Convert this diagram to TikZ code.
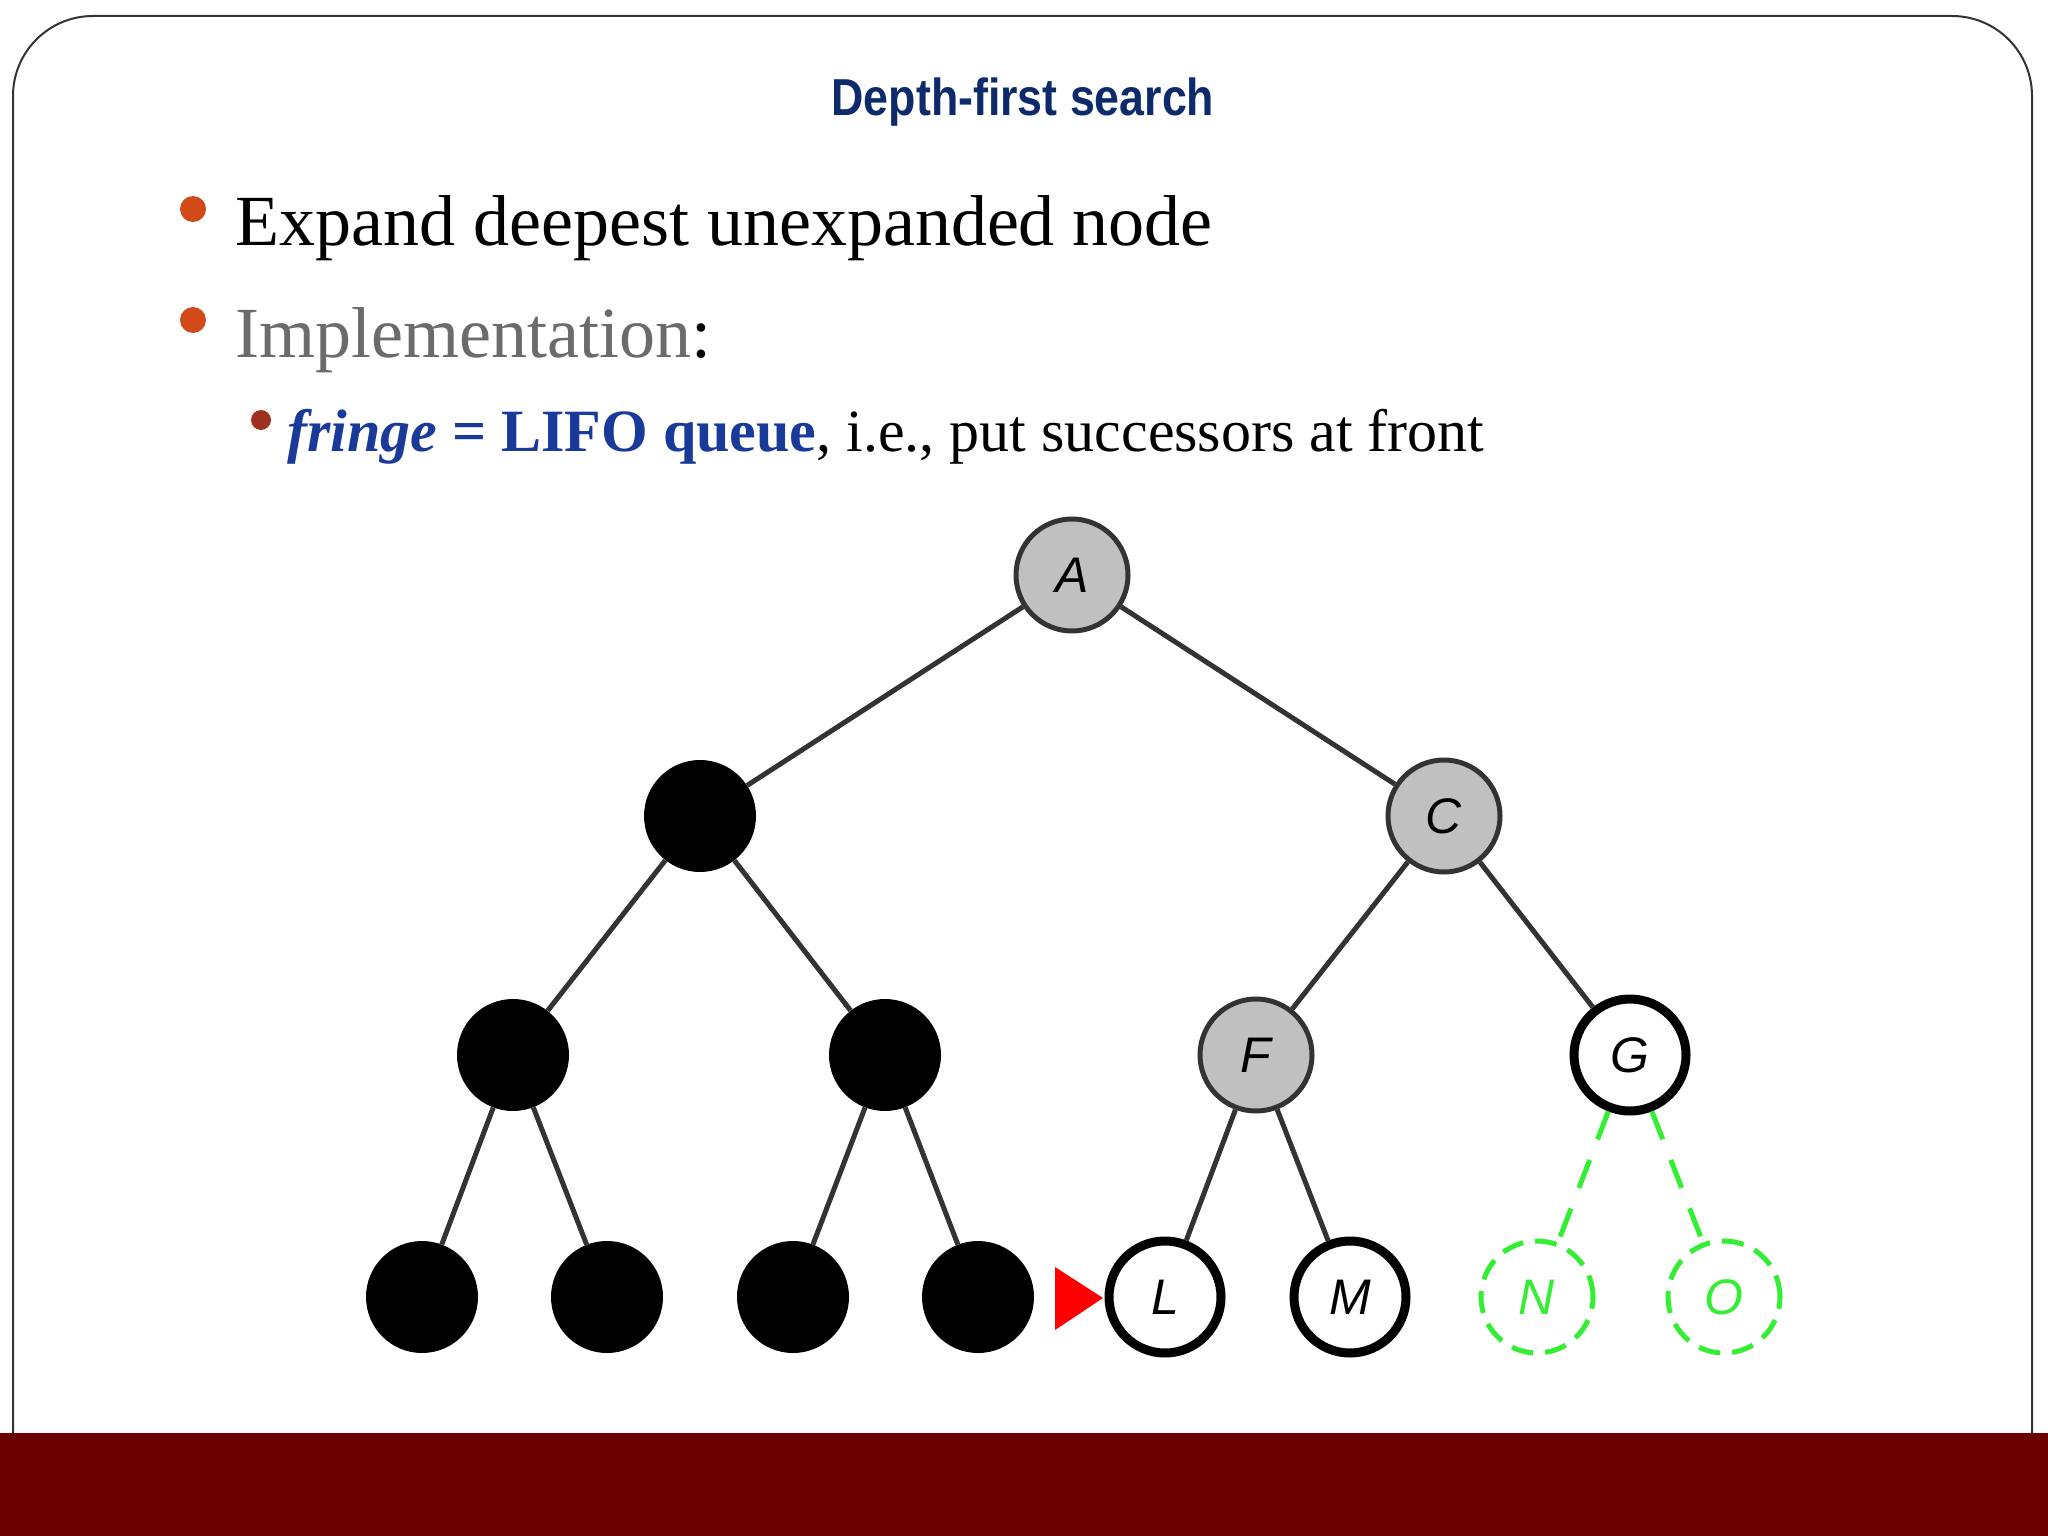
\documentclass[tikz,border=0pt]{standalone}
\usepackage{fontspec}
\setmainfont{Liberation Serif}
\newfontfamily\sansf{Liberation Sans}
\definecolor{titleblue}{HTML}{0D2A6B}
\definecolor{bulor}{HTML}{D04A1A}
\definecolor{bulred}{HTML}{A0301F}
\definecolor{textblue}{HTML}{1A3A9A}
\definecolor{barred}{HTML}{6B0000}
\definecolor{nodegray}{HTML}{C0C0C0}
\definecolor{grn}{HTML}{33EE33}
\begin{document}
\begin{tikzpicture}[x=1pt,y=-1pt,
  tn/.style={circle,minimum size=112pt,inner sep=0pt,font=\sansf\itshape\fontsize{50}{50}\selectfont},
  blk/.style={tn,fill=black},
  gry/.style={tn,fill=nodegray,draw=black!80,line width=5pt},
  wht/.style={tn,fill=white,draw=black,line width=9pt},
  grnn/.style={tn,draw=grn,dashed,dash pattern=on 22pt off 12pt,line width=5pt,text=grn},
  edge/.style={draw=black!80,line width=5pt},
  gedge/.style={draw=grn,line width=5pt,dash pattern=on 30pt off 22pt},
  txt/.style={anchor=base west,inner sep=0pt}]
\fill[white] (0,0) rectangle (2048,1536);
\draw[line width=2pt,black!80,rounded corners=80pt] (13,1433)--(13,16)--(2032,16)--(2032,1433);
\fill[barred] (0,1433) rectangle (2048,1536);
\node[font=\sansf\bfseries\fontsize{52}{52}\selectfont,text=titleblue,xscale=0.86] (title) at (1023,102) {Depth-first search};
\fill[bulor] (193,209) circle (13);
\node[txt,font=\fontsize{72}{72}\selectfont] (b1) at (235,245) {Expand deepest unexpanded node};
\fill[bulor] (193,320) circle (13);
\node[txt,font=\fontsize{72}{72}\selectfont] (b2) at (235,357) {\textcolor{black!58}{Implementation}:};
\fill[bulred] (261,420) circle (10);
\node[txt,font=\fontsize{60}{60}\selectfont] (b3) at (287,451) {\textcolor{textblue}{\textbf{\textit{fringe}} \textbf{= LIFO queue}}, i.e., put successors at front};
\node[gry] (A) at (1072,575) {A};
\node[blk] (B) at (700,816) {};
\node[gry] (C) at (1444,816) {C};
\node[blk] (D) at (513,1055) {};
\node[blk] (E) at (885,1055) {};
\node[gry] (F) at (1256,1055) {F};
\node[wht] (G) at (1630,1055) {G};
\node[blk] (H) at (422,1297) {};
\node[blk] (I) at (607,1297) {};
\node[blk] (J) at (793,1297) {};
\node[blk] (K) at (978,1297) {};
\node[wht] (L) at (1165,1297) {L};
\node[wht] (M) at (1350,1297) {M};
\node[grnn] (N) at (1537,1297) {N};
\node[grnn] (O) at (1724,1297) {O};
\begin{scope}[on background layer/.style={}]
\end{scope}
\path[edge] (A)--(B) (A)--(C) (B)--(D) (B)--(E) (C)--(F) (C)--(G)
  (D)--(H) (D)--(I) (E)--(J) (E)--(K) (F)--(L) (F)--(M);
\path[gedge] (G)--(N) (G)--(O);
\coordinate (tri) at (1079,1298);
\fill[red] (1055,1267)--(1103,1298)--(1055,1330)--cycle;
\end{tikzpicture}
\end{document}
